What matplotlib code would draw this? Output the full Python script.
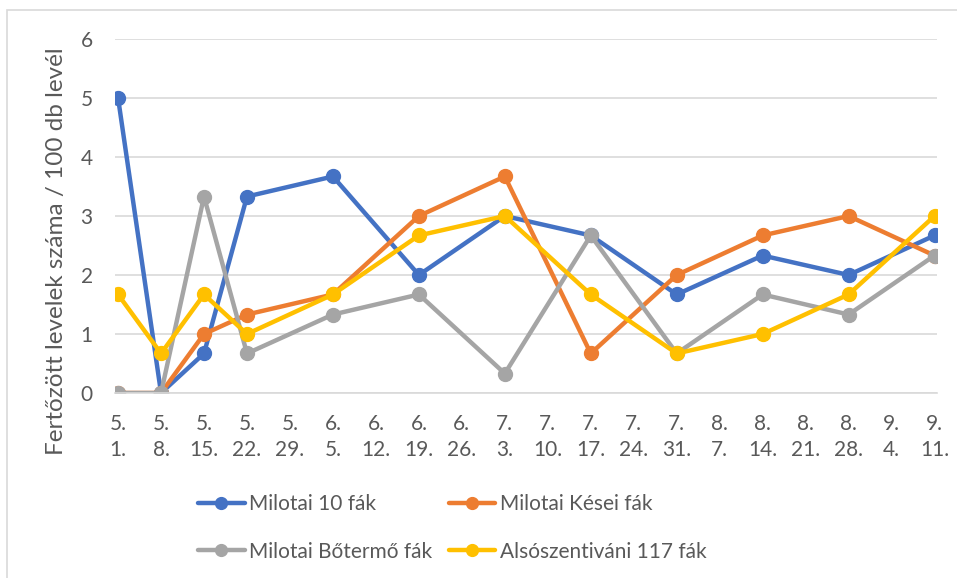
import matplotlib
matplotlib.use("Agg")
import matplotlib.pyplot as plt
from matplotlib.patches import Rectangle
from datetime import date

plt.rcParams['font.family'] = ['Lato', 'DejaVu Sans']

# ---- data ----
dates = ["05-01", "05-08", "05-15", "05-22", "06-05", "06-19",
         "07-03", "07-17", "07-31", "08-14", "08-28", "09-11"]
milotai_10 = [5, 0, 0.67, 3.33, 3.67, 2, 3, 2.67, 1.67, 2.33, 2, 2.67]
milotai_kesei = [0, 0, 1, 1.33, 1.67, 3, 3.67, 0.67, 2, 2.67, 3, 2.33]
milotai_botermo = [0, 0, 3.33, 0.67, 1.33, 1.67, 0.33, 2.67, 0.67, 1.67, 1.33, 2.33]
alsoszentivani = [1.67, 0.67, 1.67, 1, 1.67, 2.67, 3, 1.67, 0.67, 1, 1.67, 3]

series_names = ["Milotai 10 fák", "Milotai Kései fák",
                "Milotai Bőtermő fák", "Alsószentiváni 117 fák"]
colors = ["#4472C4", "#ED7D31", "#A5A5A5", "#FFC000"]

tick_dates = ["05-01", "05-08", "05-15", "05-22", "05-29", "06-05", "06-12",
              "06-19", "06-26", "07-03", "07-10", "07-17", "07-24", "07-31",
              "08-07", "08-14", "08-21", "08-28", "09-04", "09-11"]
tick_labels = ["5.\n1.", "5.\n8.", "5.\n15.", "5.\n22.", "5.\n29.", "6.\n5.",
               "6.\n12.", "6.\n19.", "6.\n26.", "7.\n3.", "7.\n10.", "7.\n17.",
               "7.\n24.", "7.\n31.", "8.\n7.", "8.\n14.", "8.\n21.", "8.\n28.",
               "9.\n4.", "9.\n11."]
y_label = "Fertőzött levelek száma / 100 db levél"

def to_day(s):
    m, d = s.split("-")
    return (date(2021, int(m), int(d)) - date(2021, 5, 1)).days

x = [to_day(s) for s in dates]
xt = [to_day(s) for s in tick_dates]

fig = plt.figure(figsize=(9.57, 5.78), dpi=100)
ax = fig.add_axes([115/957, 1 - 393/578, (937-115)/957, (393-39)/578])

all_series = [milotai_10, milotai_kesei, milotai_botermo, alsoszentivani]
lines = []
for vals, name, c in zip(all_series, series_names, colors):
    ln, = ax.plot(x, vals, color=c, lw=3.2, marker='o', ms=10, label=name,
                  solid_capstyle='round', solid_joinstyle='round')
    lines.append(ln)

ax.set_ylim(0, 6)
ax.set_xlim(-0.5, 133.4)
ax.set_yticks(range(7))
ax.set_xticks(xt)
ax.set_xticklabels(tick_labels, linespacing=1.4)
ax.grid(axis='y', color='#D9D9D9', lw=1.2)
ax.set_axisbelow(True)
for s in ax.spines.values():
    s.set_visible(False)
ax.spines['bottom'].set_visible(True)
ax.spines['bottom'].set_color('#D9D9D9')
ax.spines['bottom'].set_linewidth(1.2)
ax.tick_params(axis='both', length=0, labelsize=15, colors='#595959')
ax.tick_params(axis='x', pad=15)
ax.tick_params(axis='y', pad=16)
ax.set_ylabel(y_label, fontsize=17.5, color='#595959')
ax.yaxis.set_label_coords((67 - 115)/822, (393 - 251)/354)

order = [0, 2, 1, 3]
leg = fig.legend([lines[i] for i in order], [series_names[i] for i in order],
                 loc='center', bbox_to_anchor=(452/957, 1 - 528/578), ncol=2,
                 frameon=False, fontsize=15, handlelength=2.25,
                 columnspacing=0.8, labelspacing=1.3, handletextpad=0.2,
                 labelcolor='#595959', markerscale=0.85)

fig.patches.append(Rectangle((7/957, -0.1), 1.1, 1 - 10/578 + 0.1,
                             transform=fig.transFigure, fill=False,
                             edgecolor='#D9D9D9', lw=1.2))

fig.savefig("out.png", dpi=100)
